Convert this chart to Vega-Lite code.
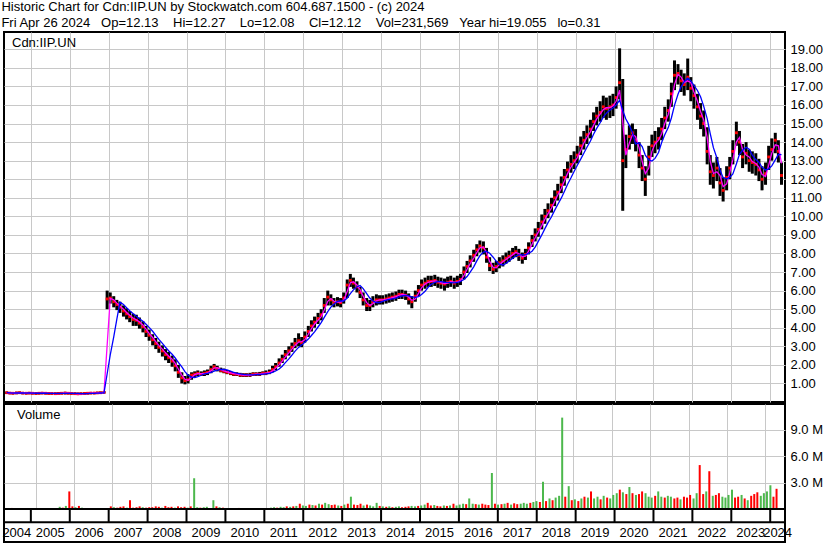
{
  "$schema": "https://vega.github.io/schema/vega-lite/v6.json",
  "background": "white",
  "padding": {"left": 1, "top": 1, "right": 0, "bottom": 0},
  "title": {
    "text": ["Historic Chart for Cdn:IIP.UN by Stockwatch.com 604.687.1500 - (c) 2024", "Fri Apr 26 2024\u00a0\u00a0\u00a0Op=12.13\u00a0\u00a0\u00a0\u00a0Hi=12.27\u00a0\u00a0\u00a0\u00a0Lo=12.08\u00a0\u00a0\u00a0\u00a0Cl=12.12\u00a0\u00a0\u00a0\u00a0Vol=231,569\u00a0\u00a0\u00a0Year hi=19.055\u00a0\u00a0\u00a0lo=0.31"],
    "anchor": "start", "frame": "bounds", "font": "Liberation Sans", "fontSize": 13, "fontWeight": "normal",
    "color": "black", "lineHeight": 16, "offset": 1, "baseline": "top"
  },
  "config": {
    "view": {"stroke": "black", "strokeWidth": 2},
    "font": "Liberation Sans",
    "axis": {"labelFont": "Liberation Sans", "labelFontSize": 13, "labelColor": "#000000", "gridColor": "#c8c8c8", "gridWidth": 1, "domain": false, "ticks": false, "tickSize": 0, "labelPadding": 5, "labelOverlap": false}
  },
  "datasets": {
    "yrs": [
      {"yr": 2004, "m": 2004.64}, {"yr": 2005, "m": 2005.5}, {"yr": 2006, "m": 2006.5}, {"yr": 2007, "m": 2007.5},
      {"yr": 2008, "m": 2008.5}, {"yr": 2009, "m": 2009.5}, {"yr": 2010, "m": 2010.5}, {"yr": 2011, "m": 2011.5},
      {"yr": 2012, "m": 2012.5}, {"yr": 2013, "m": 2013.5}, {"yr": 2014, "m": 2014.5}, {"yr": 2015, "m": 2015.5},
      {"yr": 2016, "m": 2016.5}, {"yr": 2017, "m": 2017.5}, {"yr": 2018, "m": 2018.5}, {"yr": 2019, "m": 2019.5},
      {"yr": 2020, "m": 2020.5}, {"yr": 2021, "m": 2021.5}, {"yr": 2022, "m": 2022.5}, {"yr": 2023, "m": 2023.5},
      {"yr": 2024, "m": 2024.19}
    ],
    "p": [
      {"t":2004.38,"c":0.50,"h":0.56,"l":0.43,"v":0.12,"s":"d"},
      {"t":2004.46,"c":0.48,"h":0.54,"l":0.42,"v":0.06,"s":"u"},
      {"t":2004.54,"c":0.47,"h":0.53,"l":0.41,"v":0.08,"s":"d"},
      {"t":2004.63,"c":0.49,"h":0.55,"l":0.42,"v":0.05,"s":"d"},
      {"t":2004.71,"c":0.50,"h":0.56,"l":0.44,"v":0.07,"s":"u"},
      {"t":2004.79,"c":0.48,"h":0.54,"l":0.42,"v":0.10,"s":"d"},
      {"t":2004.88,"c":0.47,"h":0.53,"l":0.41,"v":0.05,"s":"u"},
      {"t":2004.96,"c":0.48,"h":0.54,"l":0.42,"v":0.06,"s":"d"},
      {"t":2005.04,"c":0.47,"h":0.53,"l":0.41,"v":0.08,"s":"d"},
      {"t":2005.13,"c":0.46,"h":0.52,"l":0.40,"v":0.05,"s":"u"},
      {"t":2005.21,"c":0.47,"h":0.53,"l":0.41,"v":0.06,"s":"d"},
      {"t":2005.29,"c":0.48,"h":0.54,"l":0.42,"v":0.07,"s":"d"},
      {"t":2005.38,"c":0.47,"h":0.53,"l":0.41,"v":0.05,"s":"u"},
      {"t":2005.46,"c":0.46,"h":0.52,"l":0.40,"v":0.06,"s":"d"},
      {"t":2005.54,"c":0.46,"h":0.52,"l":0.40,"v":0.08,"s":"u"},
      {"t":2005.63,"c":0.45,"h":0.51,"l":0.39,"v":0.25,"s":"u"},
      {"t":2005.71,"c":0.46,"h":0.52,"l":0.40,"v":0.15,"s":"d"},
      {"t":2005.79,"c":0.47,"h":0.53,"l":0.41,"v":0.35,"s":"u"},
      {"t":2005.88,"c":0.48,"h":0.55,"l":0.41,"v":2.0,"s":"d"},
      {"t":2005.96,"c":0.47,"h":0.53,"l":0.41,"v":0.30,"s":"d"},
      {"t":2006.04,"c":0.46,"h":0.52,"l":0.40,"v":0.20,"s":"u"},
      {"t":2006.13,"c":0.45,"h":0.51,"l":0.39,"v":0.35,"s":"d"},
      {"t":2006.21,"c":0.44,"h":0.50,"l":0.38,"v":0.15,"s":"u"},
      {"t":2006.29,"c":0.45,"h":0.51,"l":0.39,"v":0.10,"s":"d"},
      {"t":2006.38,"c":0.46,"h":0.52,"l":0.40,"v":0.05,"s":"d"},
      {"t":2006.46,"c":0.47,"h":0.53,"l":0.41,"v":0.08,"s":"u"},
      {"t":2006.54,"c":0.48,"h":0.54,"l":0.42,"v":0.06,"s":"d"},
      {"t":2006.63,"c":0.48,"h":0.54,"l":0.42,"v":0.05,"s":"u"},
      {"t":2006.71,"c":0.49,"h":0.55,"l":0.43,"v":0.04,"s":"d"},
      {"t":2006.79,"c":0.50,"h":0.56,"l":0.44,"v":0.06,"s":"d"},
      {"t":2006.88,"c":0.52,"h":0.58,"l":0.46,"v":0.08,"s":"u"},
      {"t":2006.96,"c":5.55,"h":6.0,"l":5.0,"v":0.30,"s":"d"},
      {"t":2007.04,"c":5.6,"h":5.9,"l":5.3,"v":0.20,"s":"u"},
      {"t":2007.13,"c":5.4,"h":5.7,"l":5.1,"v":0.15,"s":"d"},
      {"t":2007.21,"c":5.25,"h":5.5,"l":4.95,"v":0.25,"s":"d"},
      {"t":2007.29,"c":5.1,"h":5.4,"l":4.8,"v":0.30,"s":"d"},
      {"t":2007.38,"c":4.9,"h":5.2,"l":4.6,"v":0.15,"s":"u"},
      {"t":2007.46,"c":4.75,"h":5.05,"l":4.45,"v":1.0,"s":"d"},
      {"t":2007.54,"c":4.6,"h":4.9,"l":4.3,"v":0.15,"s":"d"},
      {"t":2007.63,"c":4.45,"h":4.75,"l":4.1,"v":0.20,"s":"d"},
      {"t":2007.71,"c":4.4,"h":4.7,"l":4.1,"v":0.30,"s":"d"},
      {"t":2007.79,"c":4.25,"h":4.55,"l":3.95,"v":0.20,"s":"u"},
      {"t":2007.88,"c":4.05,"h":4.35,"l":3.75,"v":0.15,"s":"d"},
      {"t":2007.96,"c":3.8,"h":4.1,"l":3.5,"v":0.20,"s":"d"},
      {"t":2008.04,"c":3.6,"h":3.9,"l":3.3,"v":0.20,"s":"d"},
      {"t":2008.13,"c":3.35,"h":3.65,"l":3.05,"v":0.30,"s":"d"},
      {"t":2008.21,"c":3.15,"h":3.45,"l":2.85,"v":0.25,"s":"d"},
      {"t":2008.29,"c":2.95,"h":3.25,"l":2.65,"v":0.15,"s":"u"},
      {"t":2008.38,"c":2.75,"h":3.05,"l":2.45,"v":0.35,"s":"d"},
      {"t":2008.46,"c":2.55,"h":2.85,"l":2.25,"v":0.20,"s":"d"},
      {"t":2008.54,"c":2.4,"h":2.7,"l":2.1,"v":0.25,"s":"d"},
      {"t":2008.63,"c":2.2,"h":2.5,"l":1.9,"v":0.15,"s":"u"},
      {"t":2008.71,"c":1.95,"h":2.3,"l":1.65,"v":0.30,"s":"d"},
      {"t":2008.79,"c":1.6,"h":2.0,"l":1.3,"v":0.20,"s":"d"},
      {"t":2008.88,"c":1.3,"h":1.6,"l":1.0,"v":0.25,"s":"d"},
      {"t":2008.96,"c":1.15,"h":1.4,"l":0.95,"v":0.15,"s":"u"},
      {"t":2009.04,"c":1.2,"h":1.5,"l":1.0,"v":0.30,"s":"d"},
      {"t":2009.13,"c":1.45,"h":1.6,"l":1.2,"v":3.5,"s":"u"},
      {"t":2009.21,"c":1.5,"h":1.65,"l":1.35,"v":0.20,"s":"u"},
      {"t":2009.29,"c":1.55,"h":1.7,"l":1.4,"v":0.15,"s":"d"},
      {"t":2009.38,"c":1.5,"h":1.65,"l":1.4,"v":0.20,"s":"u"},
      {"t":2009.46,"c":1.55,"h":1.7,"l":1.4,"v":0.25,"s":"u"},
      {"t":2009.54,"c":1.6,"h":1.75,"l":1.45,"v":0.10,"s":"d"},
      {"t":2009.63,"c":1.75,"h":1.95,"l":1.55,"v":1.0,"s":"u"},
      {"t":2009.71,"c":1.9,"h":2.05,"l":1.7,"v":0.30,"s":"d"},
      {"t":2009.79,"c":1.8,"h":1.95,"l":1.65,"v":0.20,"s":"u"},
      {"t":2009.88,"c":1.7,"h":1.85,"l":1.6,"v":0.15,"s":"d"},
      {"t":2009.96,"c":1.65,"h":1.8,"l":1.55,"v":0.10,"s":"d"},
      {"t":2010.04,"c":1.6,"h":1.72,"l":1.5,"v":0.10,"s":"d"},
      {"t":2010.13,"c":1.55,"h":1.67,"l":1.45,"v":0.08,"s":"d"},
      {"t":2010.21,"c":1.5,"h":1.62,"l":1.4,"v":0.10,"s":"d"},
      {"t":2010.29,"c":1.5,"h":1.6,"l":1.4,"v":0.12,"s":"d"},
      {"t":2010.38,"c":1.45,"h":1.57,"l":1.35,"v":0.08,"s":"u"},
      {"t":2010.46,"c":1.45,"h":1.55,"l":1.35,"v":0.10,"s":"d"},
      {"t":2010.54,"c":1.45,"h":1.55,"l":1.35,"v":0.08,"s":"d"},
      {"t":2010.63,"c":1.45,"h":1.57,"l":1.35,"v":0.10,"s":"d"},
      {"t":2010.71,"c":1.5,"h":1.6,"l":1.4,"v":0.06,"s":"d"},
      {"t":2010.79,"c":1.5,"h":1.6,"l":1.4,"v":0.08,"s":"u"},
      {"t":2010.88,"c":1.5,"h":1.62,"l":1.4,"v":0.10,"s":"d"},
      {"t":2010.96,"c":1.55,"h":1.65,"l":1.45,"v":0.08,"s":"d"},
      {"t":2011.04,"c":1.55,"h":1.7,"l":1.45,"v":0.10,"s":"d"},
      {"t":2011.13,"c":1.6,"h":1.75,"l":1.5,"v":0.15,"s":"u"},
      {"t":2011.21,"c":1.75,"h":1.95,"l":1.6,"v":0.20,"s":"u"},
      {"t":2011.29,"c":1.9,"h":2.1,"l":1.7,"v":0.15,"s":"d"},
      {"t":2011.38,"c":2.1,"h":2.35,"l":1.9,"v":0.25,"s":"u"},
      {"t":2011.46,"c":2.3,"h":2.55,"l":2.1,"v":0.20,"s":"u"},
      {"t":2011.54,"c":2.55,"h":2.8,"l":2.3,"v":0.30,"s":"d"},
      {"t":2011.63,"c":2.75,"h":3.0,"l":2.5,"v":0.25,"s":"u"},
      {"t":2011.71,"c":2.95,"h":3.2,"l":2.7,"v":0.30,"s":"d"},
      {"t":2011.79,"c":3.15,"h":3.45,"l":2.9,"v":0.35,"s":"u"},
      {"t":2011.88,"c":3.3,"h":3.7,"l":3.0,"v":0.6,"s":"d"},
      {"t":2011.96,"c":3.2,"h":3.5,"l":2.95,"v":0.40,"s":"u"},
      {"t":2012.04,"c":3.5,"h":3.8,"l":3.2,"v":0.35,"s":"u"},
      {"t":2012.13,"c":3.8,"h":4.1,"l":3.5,"v":0.50,"s":"d"},
      {"t":2012.21,"c":4.1,"h":4.4,"l":3.8,"v":0.45,"s":"u"},
      {"t":2012.29,"c":4.3,"h":4.6,"l":4.0,"v":0.40,"s":"d"},
      {"t":2012.38,"c":4.5,"h":4.8,"l":4.2,"v":0.60,"s":"u"},
      {"t":2012.46,"c":4.7,"h":5.0,"l":4.4,"v":0.50,"s":"d"},
      {"t":2012.54,"c":5.2,"h":5.6,"l":4.8,"v":0.70,"s":"u"},
      {"t":2012.63,"c":5.65,"h":6.0,"l":5.2,"v":0.55,"s":"u"},
      {"t":2012.71,"c":5.5,"h":5.8,"l":5.2,"v":0.45,"s":"d"},
      {"t":2012.79,"c":5.35,"h":5.6,"l":5.1,"v":0.50,"s":"d"},
      {"t":2012.88,"c":5.4,"h":5.65,"l":5.15,"v":0.40,"s":"u"},
      {"t":2012.96,"c":5.35,"h":5.6,"l":5.1,"v":0.35,"s":"d"},
      {"t":2013.04,"c":5.6,"h":5.9,"l":5.3,"v":0.50,"s":"u"},
      {"t":2013.13,"c":6.3,"h":6.6,"l":5.6,"v":0.60,"s":"d"},
      {"t":2013.21,"c":6.55,"h":6.9,"l":6.2,"v":1.4,"s":"u"},
      {"t":2013.29,"c":6.4,"h":6.7,"l":6.1,"v":0.50,"s":"d"},
      {"t":2013.38,"c":6.2,"h":6.5,"l":5.9,"v":0.45,"s":"d"},
      {"t":2013.46,"c":5.9,"h":6.2,"l":5.6,"v":0.60,"s":"d"},
      {"t":2013.54,"c":5.5,"h":5.9,"l":5.2,"v":0.40,"s":"u"},
      {"t":2013.63,"c":5.2,"h":5.6,"l":4.9,"v":0.50,"s":"d"},
      {"t":2013.71,"c":5.2,"h":5.5,"l":4.9,"v":0.40,"s":"u"},
      {"t":2013.79,"c":5.4,"h":5.7,"l":5.1,"v":0.30,"s":"u"},
      {"t":2013.88,"c":5.5,"h":5.8,"l":5.2,"v":0.70,"s":"u"},
      {"t":2013.96,"c":5.5,"h":5.75,"l":5.25,"v":0.35,"s":"d"},
      {"t":2014.04,"c":5.5,"h":5.75,"l":5.25,"v":0.30,"s":"u"},
      {"t":2014.13,"c":5.55,"h":5.8,"l":5.3,"v":0.25,"s":"d"},
      {"t":2014.21,"c":5.6,"h":5.85,"l":5.35,"v":0.30,"s":"u"},
      {"t":2014.29,"c":5.65,"h":5.9,"l":5.4,"v":0.20,"s":"d"},
      {"t":2014.38,"c":5.7,"h":5.95,"l":5.45,"v":0.25,"s":"u"},
      {"t":2014.46,"c":5.8,"h":6.05,"l":5.55,"v":0.30,"s":"u"},
      {"t":2014.54,"c":5.8,"h":6.05,"l":5.55,"v":0.20,"s":"d"},
      {"t":2014.63,"c":5.75,"h":6.0,"l":5.5,"v":0.25,"s":"d"},
      {"t":2014.71,"c":5.55,"h":5.85,"l":5.25,"v":0.30,"s":"d"},
      {"t":2014.79,"c":5.4,"h":5.7,"l":5.05,"v":0.35,"s":"u"},
      {"t":2014.88,"c":5.7,"h":6.0,"l":5.4,"v":0.30,"s":"u"},
      {"t":2014.96,"c":6.0,"h":6.3,"l":5.7,"v":0.35,"s":"d"},
      {"t":2015.04,"c":6.3,"h":6.6,"l":6.0,"v":0.40,"s":"u"},
      {"t":2015.13,"c":6.4,"h":6.7,"l":6.1,"v":0.50,"s":"u"},
      {"t":2015.21,"c":6.5,"h":6.8,"l":6.2,"v":0.70,"s":"d"},
      {"t":2015.29,"c":6.5,"h":6.8,"l":6.2,"v":0.40,"s":"d"},
      {"t":2015.38,"c":6.55,"h":6.85,"l":6.25,"v":0.45,"s":"u"},
      {"t":2015.46,"c":6.45,"h":6.75,"l":6.15,"v":0.35,"s":"d"},
      {"t":2015.54,"c":6.4,"h":6.7,"l":6.1,"v":0.30,"s":"d"},
      {"t":2015.63,"c":6.35,"h":6.65,"l":6.0,"v":0.40,"s":"u"},
      {"t":2015.71,"c":6.45,"h":6.75,"l":6.15,"v":0.35,"s":"d"},
      {"t":2015.79,"c":6.5,"h":6.8,"l":6.2,"v":0.40,"s":"u"},
      {"t":2015.88,"c":6.4,"h":6.7,"l":6.1,"v":0.60,"s":"d"},
      {"t":2015.96,"c":6.5,"h":6.8,"l":6.2,"v":0.40,"s":"u"},
      {"t":2016.04,"c":6.6,"h":6.9,"l":6.3,"v":0.50,"s":"u"},
      {"t":2016.13,"c":7.0,"h":7.3,"l":6.6,"v":0.60,"s":"u"},
      {"t":2016.21,"c":7.3,"h":7.6,"l":6.95,"v":0.55,"s":"d"},
      {"t":2016.29,"c":7.6,"h":7.9,"l":7.25,"v":1.2,"s":"u"},
      {"t":2016.38,"c":7.9,"h":8.2,"l":7.55,"v":0.60,"s":"u"},
      {"t":2016.46,"c":8.2,"h":8.5,"l":7.85,"v":0.55,"s":"d"},
      {"t":2016.54,"c":8.4,"h":8.7,"l":8.05,"v":0.50,"s":"u"},
      {"t":2016.63,"c":8.3,"h":8.65,"l":7.95,"v":0.60,"s":"d"},
      {"t":2016.71,"c":7.8,"h":8.3,"l":7.5,"v":0.50,"s":"d"},
      {"t":2016.79,"c":7.35,"h":7.8,"l":7.05,"v":0.45,"s":"d"},
      {"t":2016.88,"c":7.15,"h":7.5,"l":6.9,"v":4.1,"s":"u"},
      {"t":2016.96,"c":7.3,"h":7.6,"l":7.0,"v":0.60,"s":"d"},
      {"t":2017.04,"c":7.5,"h":7.8,"l":7.2,"v":0.50,"s":"u"},
      {"t":2017.13,"c":7.6,"h":7.9,"l":7.3,"v":0.55,"s":"d"},
      {"t":2017.21,"c":7.75,"h":8.05,"l":7.45,"v":0.60,"s":"u"},
      {"t":2017.29,"c":7.85,"h":8.15,"l":7.55,"v":0.70,"s":"d"},
      {"t":2017.38,"c":8.0,"h":8.3,"l":7.7,"v":0.50,"s":"u"},
      {"t":2017.46,"c":8.1,"h":8.4,"l":7.8,"v":0.65,"s":"d"},
      {"t":2017.54,"c":7.9,"h":8.25,"l":7.6,"v":0.55,"s":"d"},
      {"t":2017.63,"c":7.75,"h":8.05,"l":7.45,"v":0.60,"s":"u"},
      {"t":2017.71,"c":7.95,"h":8.25,"l":7.65,"v":0.70,"s":"u"},
      {"t":2017.79,"c":8.3,"h":8.6,"l":7.95,"v":0.60,"s":"u"},
      {"t":2017.88,"c":8.7,"h":9.0,"l":8.35,"v":0.70,"s":"d"},
      {"t":2017.96,"c":9.0,"h":9.35,"l":8.65,"v":0.80,"s":"u"},
      {"t":2018.04,"c":9.3,"h":9.7,"l":8.9,"v":0.90,"s":"u"},
      {"t":2018.13,"c":9.7,"h":10.1,"l":9.3,"v":0.80,"s":"d"},
      {"t":2018.21,"c":10.0,"h":10.4,"l":9.6,"v":3.1,"s":"u"},
      {"t":2018.29,"c":10.3,"h":10.7,"l":9.9,"v":0.90,"s":"d"},
      {"t":2018.38,"c":10.6,"h":11.0,"l":10.2,"v":1.2,"s":"u"},
      {"t":2018.46,"c":11.0,"h":11.4,"l":10.55,"v":1.0,"s":"d"},
      {"t":2018.54,"c":11.3,"h":11.75,"l":10.85,"v":1.3,"s":"u"},
      {"t":2018.63,"c":11.7,"h":12.15,"l":11.25,"v":1.5,"s":"u"},
      {"t":2018.71,"c":12.1,"h":12.55,"l":11.65,"v":10.4,"s":"u"},
      {"t":2018.79,"c":12.5,"h":12.95,"l":12.05,"v":1.4,"s":"d"},
      {"t":2018.88,"c":12.8,"h":13.3,"l":12.35,"v":2.6,"s":"u"},
      {"t":2018.96,"c":13.0,"h":13.5,"l":12.55,"v":1.0,"s":"d"},
      {"t":2019.04,"c":13.3,"h":13.8,"l":12.85,"v":1.1,"s":"u"},
      {"t":2019.13,"c":13.8,"h":14.3,"l":13.3,"v":0.9,"s":"d"},
      {"t":2019.21,"c":14.1,"h":14.6,"l":13.6,"v":1.2,"s":"u"},
      {"t":2019.29,"c":14.4,"h":14.9,"l":13.9,"v":1.4,"s":"d"},
      {"t":2019.38,"c":14.7,"h":15.2,"l":14.2,"v":1.3,"s":"u"},
      {"t":2019.46,"c":15.1,"h":15.6,"l":14.6,"v":2.0,"s":"d"},
      {"t":2019.54,"c":15.4,"h":15.9,"l":14.9,"v":1.2,"s":"u"},
      {"t":2019.63,"c":15.6,"h":16.2,"l":15.1,"v":1.4,"s":"u"},
      {"t":2019.71,"c":15.9,"h":16.5,"l":15.3,"v":1.1,"s":"d"},
      {"t":2019.79,"c":15.8,"h":16.4,"l":15.2,"v":1.5,"s":"u"},
      {"t":2019.88,"c":15.9,"h":16.5,"l":15.3,"v":1.3,"s":"d"},
      {"t":2019.96,"c":16.0,"h":16.6,"l":15.4,"v":1.2,"s":"u"},
      {"t":2020.04,"c":16.4,"h":17.0,"l":15.8,"v":1.6,"s":"u"},
      {"t":2020.13,"c":17.2,"h":19.05,"l":16.3,"v":1.8,"s":"u"},
      {"t":2020.21,"c":13.0,"h":17.4,"l":10.3,"v":2.2,"s":"d"},
      {"t":2020.29,"c":13.6,"h":14.4,"l":12.6,"v":1.9,"s":"u"},
      {"t":2020.38,"c":14.3,"h":14.9,"l":13.6,"v":1.7,"s":"d"},
      {"t":2020.46,"c":14.5,"h":15.0,"l":13.9,"v":2.5,"s":"u"},
      {"t":2020.54,"c":14.1,"h":14.7,"l":13.5,"v":1.8,"s":"d"},
      {"t":2020.63,"c":13.3,"h":14.0,"l":12.6,"v":1.6,"s":"u"},
      {"t":2020.71,"c":12.6,"h":13.3,"l":11.9,"v":1.7,"s":"d"},
      {"t":2020.79,"c":12.0,"h":12.7,"l":11.1,"v":2.0,"s":"d"},
      {"t":2020.88,"c":13.2,"h":13.8,"l":12.2,"v":1.8,"s":"u"},
      {"t":2020.96,"c":13.8,"h":14.4,"l":13.2,"v":1.4,"s":"u"},
      {"t":2021.04,"c":14.0,"h":14.6,"l":13.4,"v":1.3,"s":"u"},
      {"t":2021.13,"c":14.2,"h":14.8,"l":13.6,"v":1.5,"s":"d"},
      {"t":2021.21,"c":14.7,"h":15.3,"l":14.1,"v":2.0,"s":"u"},
      {"t":2021.29,"c":15.3,"h":15.9,"l":14.7,"v":1.4,"s":"u"},
      {"t":2021.38,"c":15.7,"h":16.3,"l":15.1,"v":1.3,"s":"d"},
      {"t":2021.46,"c":16.6,"h":17.2,"l":15.9,"v":1.5,"s":"u"},
      {"t":2021.54,"c":17.6,"h":18.4,"l":16.8,"v":1.4,"s":"u"},
      {"t":2021.63,"c":17.7,"h":18.2,"l":17.1,"v":1.2,"s":"d"},
      {"t":2021.71,"c":17.3,"h":17.9,"l":16.7,"v":1.3,"s":"d"},
      {"t":2021.79,"c":17.1,"h":17.7,"l":16.5,"v":1.1,"s":"u"},
      {"t":2021.88,"c":17.5,"h":18.5,"l":16.8,"v":1.4,"s":"d"},
      {"t":2021.96,"c":16.9,"h":17.5,"l":16.2,"v":1.3,"s":"d"},
      {"t":2022.04,"c":16.5,"h":17.1,"l":15.8,"v":1.6,"s":"d"},
      {"t":2022.13,"c":15.9,"h":16.6,"l":15.2,"v":1.2,"s":"u"},
      {"t":2022.21,"c":15.4,"h":16.1,"l":14.7,"v":1.8,"s":"u"},
      {"t":2022.29,"c":15.0,"h":15.7,"l":14.3,"v":5.0,"s":"d"},
      {"t":2022.38,"c":13.5,"h":14.8,"l":12.8,"v":1.7,"s":"d"},
      {"t":2022.46,"c":12.4,"h":13.3,"l":11.7,"v":2.0,"s":"u"},
      {"t":2022.54,"c":12.2,"h":12.9,"l":11.5,"v":4.3,"s":"d"},
      {"t":2022.63,"c":12.6,"h":13.2,"l":11.9,"v":1.5,"s":"u"},
      {"t":2022.71,"c":11.8,"h":12.6,"l":11.1,"v":1.6,"s":"d"},
      {"t":2022.79,"c":11.4,"h":12.1,"l":10.8,"v":1.8,"s":"d"},
      {"t":2022.88,"c":12.1,"h":12.7,"l":11.4,"v":1.4,"s":"u"},
      {"t":2022.96,"c":12.6,"h":13.2,"l":12.0,"v":1.3,"s":"u"},
      {"t":2023.04,"c":13.5,"h":14.1,"l":12.8,"v":1.6,"s":"u"},
      {"t":2023.13,"c":14.5,"h":15.1,"l":13.8,"v":2.2,"s":"u"},
      {"t":2023.21,"c":14.0,"h":14.6,"l":13.3,"v":1.3,"s":"d"},
      {"t":2023.29,"c":13.2,"h":13.9,"l":12.6,"v":1.4,"s":"d"},
      {"t":2023.38,"c":13.4,"h":14.0,"l":12.8,"v":1.6,"s":"u"},
      {"t":2023.46,"c":13.0,"h":13.6,"l":12.4,"v":1.2,"s":"d"},
      {"t":2023.54,"c":12.9,"h":13.5,"l":12.3,"v":1.0,"s":"u"},
      {"t":2023.63,"c":12.8,"h":13.4,"l":12.2,"v":1.5,"s":"d"},
      {"t":2023.71,"c":12.5,"h":13.1,"l":11.9,"v":1.7,"s":"d"},
      {"t":2023.79,"c":12.0,"h":12.7,"l":11.4,"v":1.9,"s":"d"},
      {"t":2023.88,"c":12.3,"h":12.9,"l":11.7,"v":1.5,"s":"u"},
      {"t":2023.96,"c":13.2,"h":13.8,"l":12.5,"v":1.8,"s":"u"},
      {"t":2024.04,"c":13.6,"h":14.2,"l":13.0,"v":2.0,"s":"u"},
      {"t":2024.13,"c":14.1,"h":14.5,"l":13.4,"v":2.7,"s":"u"},
      {"t":2024.21,"c":13.5,"h":14.1,"l":12.9,"v":1.4,"s":"d"},
      {"t":2024.29,"c":12.2,"h":12.9,"l":11.7,"v":2.3,"s":"d"}
    ]
  },
  "hconcat": [
    {
      "spacing": 2,
      "bounds": "flush",
      "vconcat": [
        {
          "width": 781, "height": 370,
          "data": {"name": "p"},
          "transform": [
            {"window": [{"op": "mean", "field": "c", "as": "m1"}], "frame": [-1, 0], "sort": [{"field": "t", "order": "ascending"}]},
            {"window": [{"op": "mean", "field": "c", "as": "m2"}], "frame": [-4, 0], "sort": [{"field": "t", "order": "ascending"}]}
          ],
          "layer": [
            {
              "mark": {"type": "rule", "color": "black", "strokeWidth": 3},
              "encoding": {
                "x": {"field": "t", "type": "quantitative", "scale": {"domain": [2004.31, 2024.38], "nice": false, "zero": false},
                      "axis": {"values": [2005,2006,2007,2008,2009,2010,2011,2012,2013,2014,2015,2016,2017,2018,2019,2020,2021,2022,2023,2024], "grid": true, "labels": false, "title": null}},
                "y": {"field": "l", "type": "quantitative", "scale": {"domain": [0, 19.93], "nice": false, "zero": true},
                      "axis": {"orient": "right", "values": [1,2,3,4,5,6,7,8,9,10,11,12,13,14,15,16,17,18,19], "format": ".2f", "grid": true, "title": null, "labelOverlap": false}},
                "y2": {"field": "h"}
              }
            },
            {
              "mark": {"type": "square", "color": "#ff0000", "size": 8, "opacity": 1},
              "encoding": {
                "x": {"field": "t", "type": "quantitative"},
                "y": {"field": "c", "type": "quantitative", "axis": {"orient": "right", "values": [1,2,3,4,5,6,7,8,9,10,11,12,13,14,15,16,17,18,19], "format": ".2f", "grid": true, "title": null, "labelOverlap": false}}
              }
            },
            {
              "mark": {"type": "line", "color": "#ff00ff", "strokeWidth": 1.3},
              "encoding": {
                "x": {"field": "t", "type": "quantitative"},
                "y": {"field": "m1", "type": "quantitative", "axis": {"orient": "right", "values": [1,2,3,4,5,6,7,8,9,10,11,12,13,14,15,16,17,18,19], "format": ".2f", "grid": true, "title": null, "labelOverlap": false}}
              }
            },
            {
              "mark": {"type": "line", "color": "#0000ff", "strokeWidth": 1.3},
              "encoding": {
                "x": {"field": "t", "type": "quantitative"},
                "y": {"field": "m2", "type": "quantitative", "axis": {"orient": "right", "values": [1,2,3,4,5,6,7,8,9,10,11,12,13,14,15,16,17,18,19], "format": ".2f", "grid": true, "title": null, "labelOverlap": false}}
              }
            },
            {
              "data": {"values": [{}]},
              "mark": {"type": "text", "align": "left", "baseline": "alphabetic", "fontSize": 13, "font": "Liberation Sans", "color": "black", "dx": 8, "dy": 15},
              "encoding": {
                "x": {"datum": 2004.31, "type": "quantitative"},
                "y": {"datum": 19.93, "type": "quantitative", "axis": {"orient": "right", "values": [1,2,3,4,5,6,7,8,9,10,11,12,13,14,15,16,17,18,19], "format": ".2f", "grid": true, "title": null, "labelOverlap": false}},
                "text": {"value": "Cdn:IIP.UN"}
              }
            }
          ]
        },
        {
          "spacing": 0,
          "bounds": "flush",
          "vconcat": [
            {
              "width": 781, "height": 105,
              "layer": [
                {
                  "data": {"name": "p"},
                  "mark": {"type": "bar", "width": 2},
                  "encoding": {
                    "x": {"field": "t", "type": "quantitative", "scale": {"domain": [2004.31, 2024.38], "nice": false, "zero": false},
                          "axis": {"values": [2005,2006,2007,2008,2009,2010,2011,2012,2013,2014,2015,2016,2017,2018,2019,2020,2021,2022,2023,2024], "grid": true, "labels": false, "title": null}},
                    "y": {"field": "v", "type": "quantitative", "scale": {"domain": [0, 11.95], "nice": false},
                          "axis": {"orient": "right", "values": [3, 6, 9], "labelExpr": "format(datum.value, '.1f') + ' M'", "grid": true, "title": null}},
                    "color": {"field": "s", "type": "nominal", "scale": {"domain": ["u", "d"], "range": ["#4cb84c", "#ff0000"]}, "legend": null}
                  }
                },
                {
                  "data": {"values": [{}]},
                  "mark": {"type": "text", "align": "left", "baseline": "alphabetic", "fontSize": 13, "font": "Liberation Sans", "color": "black", "dx": 8, "dy": 15},
                  "encoding": {"x": {"datum": 2004.31, "type": "quantitative"}, "y": {"datum": 11.95, "type": "quantitative"}, "text": {"value": "Volume"}}
                }
              ]
            },
            {
              "width": 781, "height": 33,
              "layer": [
                {
                  "data": {"name": "yrs"},
                  "mark": {"type": "rule", "color": "black", "strokeWidth": 2, "clip": true},
                  "encoding": {
                    "x": {"field": "yr", "type": "quantitative", "scale": {"domain": [2004.31, 2024.38], "nice": false, "zero": false}, "axis": null},
                    "y": {"datum": 1, "type": "quantitative", "scale": {"domain": [0, 1], "nice": false}, "axis": null},
                    "y2": {"datum": 0.6}
                  }
                },
                {
                  "data": {"values": [{}]},
                  "mark": {"type": "rule", "color": "black", "strokeWidth": 2},
                  "encoding": {"y": {"datum": 0.6, "type": "quantitative"}}
                },
                {
                  "data": {"name": "yrs"},
                  "mark": {"type": "text", "fontSize": 13, "font": "Liberation Sans", "color": "black", "baseline": "middle"},
                  "encoding": {
                    "x": {"field": "m", "type": "quantitative"},
                    "y": {"datum": 0.27, "type": "quantitative"},
                    "text": {"field": "yr", "type": "nominal"}
                  }
                }
              ]
            }
          ]
        }
      ]
    },
    {
      "width": 46, "height": 510,
      "data": {"values": [{}]},
      "mark": {"type": "text"},
      "encoding": {"text": {"value": ""}}
    }
  ],
  "spacing": 0,
  "bounds": "flush"
}
